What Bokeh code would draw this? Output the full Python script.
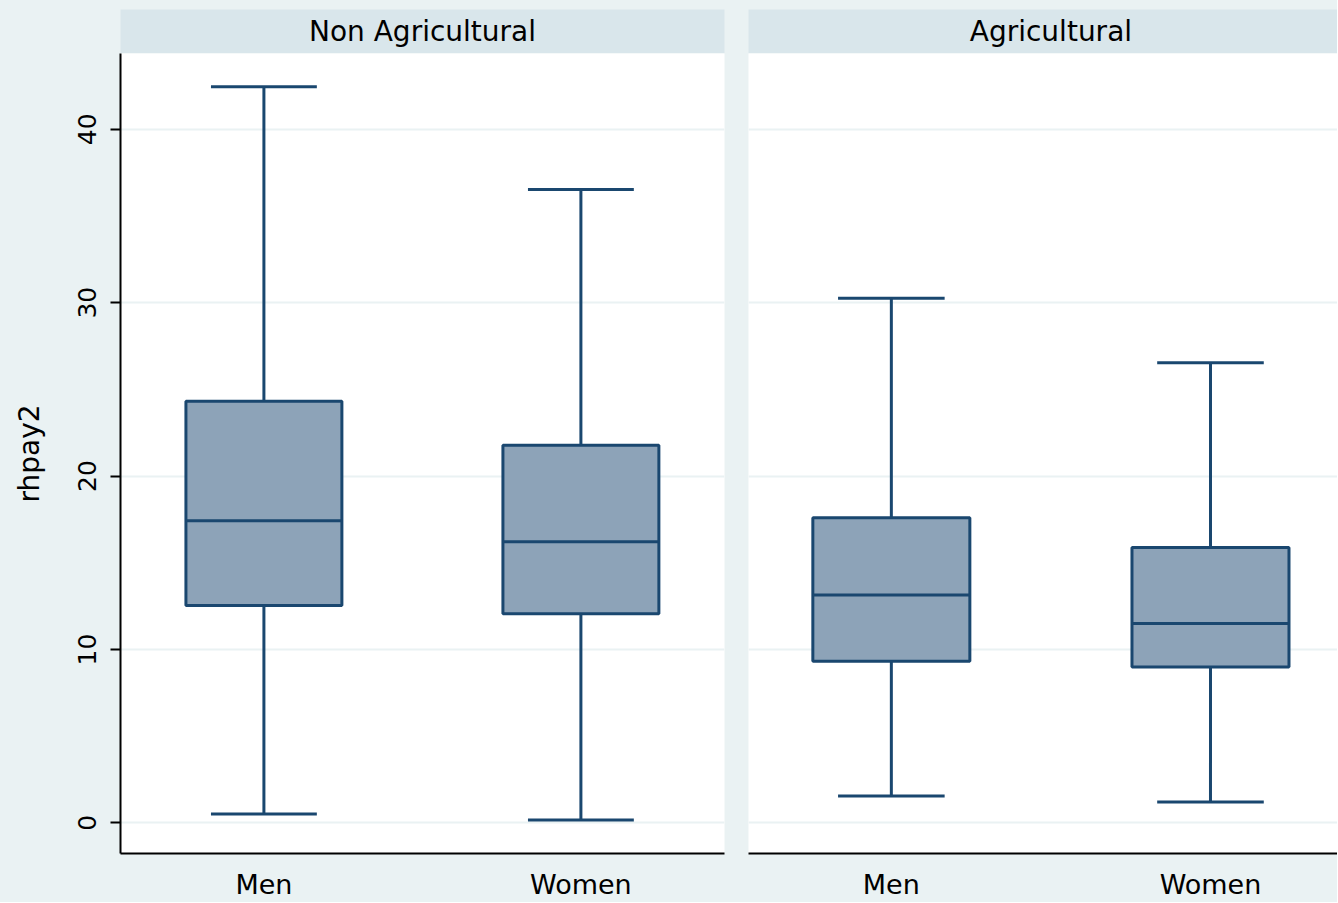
from bokeh.plotting import figure
from bokeh.layouts import column, row
from bokeh.models import Range1d, FixedTicker, ColumnDataSource
from bokeh.embed import file_html
from bokeh.resources import INLINE
from bokeh.core.properties import value

# ---------------- data ----------------
panels = ["Non Agricultural", "Agricultural"]
categories = ["Men", "Women"]
y_ticks = [0, 10, 20, 30, 40]
y_label = "rhpay2"

nonag_lower = [0.52, 0.17]
nonag_q1 = [12.54, 12.06]
nonag_median = [17.43, 16.22]
nonag_q3 = [24.31, 21.78]
nonag_upper = [42.45, 36.53]

ag_lower = [1.55, 1.21]
ag_q1 = [9.32, 8.99]
ag_median = [13.15, 11.50]
ag_q3 = [17.60, 15.88]
ag_upper = [30.26, 26.54]

# ---------------- style ----------------
BG = "#EAF2F3"
STRIP = "#D9E6EB"
NAVY = "#1A476F"
FILL = "#8DA3B8"
GRID = "#EAF2F3"
FONT = "DejaVu Sans"
BOX_W = 0.492
CAP_W = 0.334

xs = [i + 1 for i in range(len(categories))]
y_range = Range1d(-1.764, 44.37)

MAIN_H = 849
STRIP_H = 53


def make_main(xr, lower, q1, med, q3, upper, width, left, right, show_y):
    p = figure(width=width, height=MAIN_H, x_range=xr, y_range=y_range,
               output_backend="svg", toolbar_location=None,
               y_axis_location="left" if show_y else None,
               min_border_left=left, min_border_right=right,
               min_border_top=0, min_border_bottom=MAIN_H - 802)
    p.background_fill_color = "white"
    p.border_fill_color = BG
    p.outline_line_color = None
    p.xgrid.visible = False
    p.ygrid.ticker = FixedTicker(ticks=y_ticks)
    p.ygrid.grid_line_color = GRID
    p.ygrid.grid_line_width = 2

    src = ColumnDataSource(dict(
        x=xs, lower=lower, q1=q1, med=med, q3=q3, upper=upper,
        cap0=[x - CAP_W / 2 for x in xs], cap1=[x + CAP_W / 2 for x in xs],
        box0=[x - BOX_W / 2 for x in xs], box1=[x + BOX_W / 2 for x in xs],
    ))
    p.segment(x0="x", y0="q3", x1="x", y1="upper", source=src,
              line_color=NAVY, line_width=3)
    p.segment(x0="x", y0="q1", x1="x", y1="lower", source=src,
              line_color=NAVY, line_width=3)
    p.segment(x0="cap0", y0="upper", x1="cap1", y1="upper", source=src,
              line_color=NAVY, line_width=3)
    p.segment(x0="cap0", y0="lower", x1="cap1", y1="lower", source=src,
              line_color=NAVY, line_width=3)
    p.vbar(x="x", width=BOX_W, bottom="q1", top="q3", source=src,
           fill_color=FILL, line_color=NAVY, line_width=3)
    p.segment(x0="box0", y0="med", x1="box1", y1="med", source=src,
              line_color=NAVY, line_width=3)

    xa = p.xaxis[0]
    xa.ticker = FixedTicker(ticks=xs)
    xa.major_label_overrides = {x: c for x, c in zip(xs, categories)}
    xa.major_tick_line_color = None
    xa.major_tick_out = 0
    xa.major_tick_in = 0
    xa.minor_tick_line_color = None
    xa.axis_line_color = "black"
    xa.axis_line_width = 2
    xa.major_label_text_font = FONT
    xa.major_label_text_font_size = "27px"
    xa.major_label_text_color = "black"
    xa.major_label_standoff = 15

    if show_y:
        ya = p.yaxis[0]
        ya.ticker = FixedTicker(ticks=y_ticks)
        ya.axis_line_color = "black"
        ya.axis_line_width = 2
        ya.major_tick_out = 10
        ya.major_tick_in = 0
        ya.major_tick_line_width = 2
        ya.major_tick_line_color = "black"
        ya.minor_tick_line_color = None
        ya.major_label_orientation = "parallel"
        ya.major_label_text_font = FONT
        ya.major_label_text_font_size = "25px"
        ya.major_label_text_color = "black"
        ya.major_label_standoff = 14
        ya.axis_label = y_label
        ya.axis_label_text_font = FONT
        ya.axis_label_text_font_size = "28px"
        ya.axis_label_text_font_style = "normal"
        ya.axis_label_text_color = "black"
        ya.axis_label_standoff = 30
    return p


def make_strip(xr, title, width, left, right):
    s = figure(width=width, height=STRIP_H, x_range=xr, y_range=Range1d(0, 1),
               output_backend="svg", toolbar_location=None,
               x_axis_location=None, y_axis_location=None,
               min_border_left=left, min_border_right=right,
               min_border_top=STRIP_H - 44, min_border_bottom=0)
    s.background_fill_color = STRIP
    s.border_fill_color = BG
    s.outline_line_color = None
    s.grid.visible = False
    s.text(x=[(xr.start + xr.end) / 2], y=[0.5], text=[title],
           text_align="center", text_baseline="middle",
           text_font=value(FONT), text_font_size="28px", text_color="black")
    return s


xr1 = Range1d(0.5476, 2.453)
xr2 = Range1d(0.5524, 2.4476)
xr2_view = Range1d(0.5524, 2.398)

m1 = make_main(xr1, nonag_lower, nonag_q1, nonag_median, nonag_q3, nonag_upper,
               736, 120, 12, True)
m2 = make_main(xr2_view, ag_lower, ag_q1, ag_median, ag_q3, ag_upper,
               601, 12, 0, False)
s1 = make_strip(xr1, panels[0], 736, 120, 12)
s2 = make_strip(xr2_view, panels[1], 601, 12, 0)
# centre the Agricultural label on the full (uncut) panel
s2.renderers[0].data_source.data["x"] = [(xr2.start + xr2.end) / 2]

bgstyle = {"background-color": BG}
layout = column(row(s1, s2, styles=bgstyle), row(m1, m2, styles=bgstyle),
                styles=bgstyle)

open("out.html", "w").write(file_html(layout, INLINE))
